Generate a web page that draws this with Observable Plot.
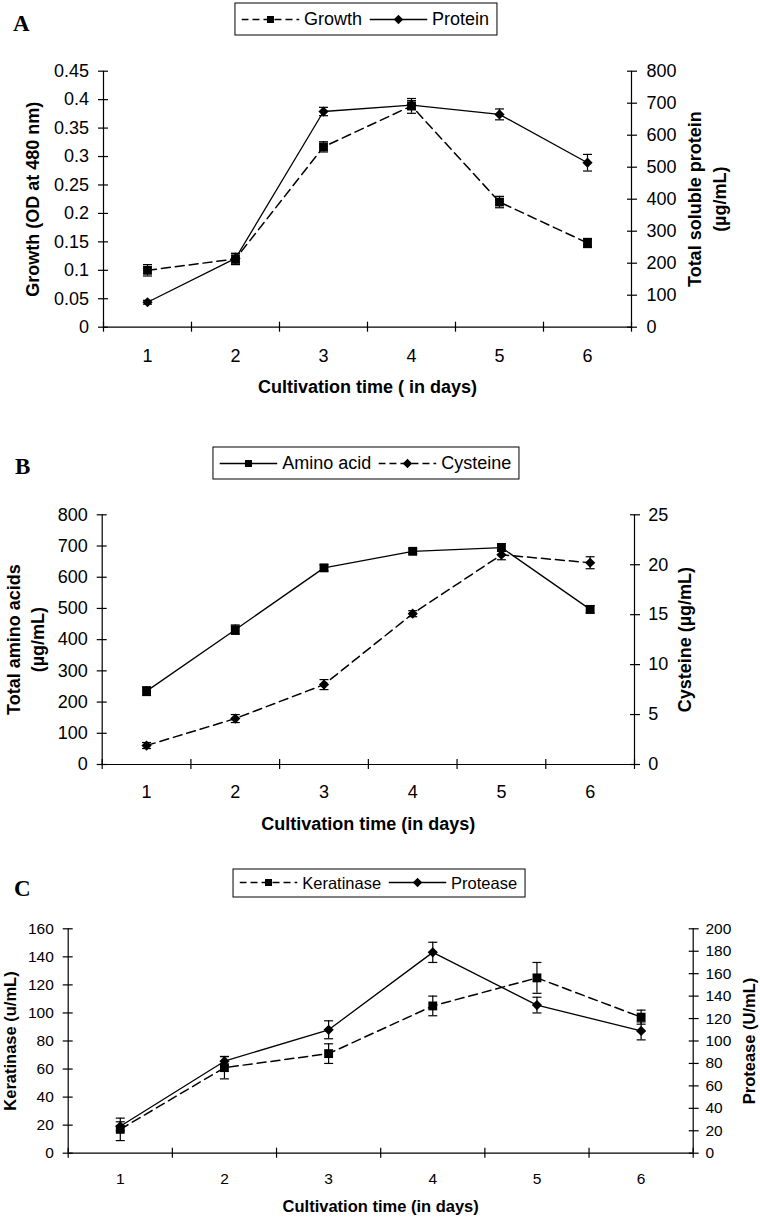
<!DOCTYPE html>
<html><head><meta charset="utf-8">
<script src="https://cdn.jsdelivr.net/npm/d3@7"></script>
<script src="https://cdn.jsdelivr.net/npm/@observablehq/plot@0.6"></script>
<style>
body{margin:0;background:#fff;}
#root{position:relative;width:760px;height:1221px;background:#fff;font-family:'Liberation Sans',Arial,Helvetica,sans-serif;color:#000;overflow:hidden;}
.panel{position:absolute;left:0;}
.letter{position:absolute;font-family:'Liberation Serif','Times New Roman',serif;font-weight:bold;font-size:23px;line-height:1;}
.legend{position:absolute;transform:translate(-50%,-50%);border:1px solid #000;display:flex;align-items:center;white-space:nowrap;background:#fff;box-sizing:border-box;}
.legend .item{display:flex;align-items:center;}
.legend svg{display:block;}
</style></head><body><div id="root"></div><script>
// ---------- data ----------
const days = [1, 2, 3, 4, 5, 6];

// Panel A
const growth = [0.100, 0.120, 0.317, 0.389, 0.220, 0.148];
const growthErr = [0.010, 0.010, 0.009, 0.013, 0.010, 0.008];
const protein = [78, 215, 674, 694, 665, 514];
const proteinErr = [6, 15, 13, 14, 17, 26];
const growthTicks = [0, 0.05, 0.1, 0.15, 0.2, 0.25, 0.3, 0.35, 0.4, 0.45];
const proteinTicks = [0, 100, 200, 300, 400, 500, 600, 700, 800];

// Panel B
const aminoAcid = [235, 432, 630, 683, 695, 497];
const aminoErr = [14, 15, 10, 8, 12, 12];
const cysteine = [1.9, 4.6, 8.0, 15.1, 21.0, 20.2];
const cysteineErr = [0.3, 0.4, 0.5, 0.3, 0.5, 0.6];
const aminoTicks = [0, 100, 200, 300, 400, 500, 600, 700, 800];
const cysteineTicks = [0, 5, 10, 15, 20, 25];

// Panel C
const keratinase = [17, 61, 71, 105, 125, 97];
const keratinaseErr = [8, 8, 7, 7, 11, 5];
const protease = [24, 82, 110, 179, 132, 109];
const proteaseErr = [4, 4, 8, 9, 7, 8];
const keratinaseTicks = [0, 20, 40, 60, 80, 100, 120, 140, 160];
const proteaseTicks = [0, 20, 40, 60, 80, 100, 120, 140, 160, 180, 200];

// ---------- helpers ----------
const FONT = "'Liberation Sans', Arial, Helvetica, sans-serif";
const cap = {draw(ctx, size) { const w = Math.sqrt(size / Math.PI); ctx.moveTo(-w, 0); ctx.lineTo(w, 0); }};

function rows(values, errs, k) {
  return days.map((d, i) => ({day: d, v: values[i] * k, lo: (values[i] - errs[i]) * k, hi: (values[i] + errs[i]) * k}));
}

function seriesMarks(s, k) {
  const data = rows(s.values, s.errs, k);
  const lineOpts = {x: "day", y: "v", stroke: "#000", strokeWidth: s.dashed ? 1.5 : 1.3};
  if (s.dashed) lineOpts.strokeDasharray = "9,5";
  return [
    Plot.ruleX(data, {x: "day", y1: "lo", y2: "hi", stroke: "#000", strokeWidth: 1.2}),
    Plot.dot(data, {x: "day", y: "lo", symbol: cap, r: 4.5, stroke: "#000", fill: "none", strokeWidth: 1.2}),
    Plot.dot(data, {x: "day", y: "hi", symbol: cap, r: 4.5, stroke: "#000", fill: "none", strokeWidth: 1.2}),
    Plot.line(data, lineOpts),
    Plot.dot(data, {x: "day", y: "v", symbol: s.symbol, r: s.symbol === "square" ? 5 : 4.6, fill: "#000", stroke: "none"})
  ];
}

function panel(c) {
  const k = c.leftMax / c.rightMax;
  const edges = [...days.map(d => d - 0.5), days[days.length - 1] + 0.5];
  const fmtR = d => String(Math.round(d / k * 1000) / 1000);
  const marks = [
    Plot.ruleY([0], {stroke: "#000", strokeWidth: 1.2}),
    Plot.ruleX([edges[0]], {stroke: "#000", strokeWidth: 1.2}),
    Plot.ruleX([edges[edges.length - 1]], {stroke: "#000", strokeWidth: 1.2}),
    Plot.axisY(c.leftTicks, {anchor: "left", tickSize: 10, dx: 5, tickPadding: c.padL - 5, tickFormat: c.leftFmt, label: null, strokeWidth: 1.2, fontSize: c.fontSize}),
    Plot.axisY(c.rightTicks.map(t => t * k), {anchor: "right", tickSize: 10, dx: -5, tickPadding: c.padR - 5, tickFormat: fmtR, label: null, strokeWidth: 1.2, fontSize: c.fontSize}),
    Plot.axisX(edges, {anchor: "bottom", tickSize: 10, dy: -5, tickFormat: () => "", label: null, strokeWidth: 1.2}),
    Plot.axisX(days, {anchor: "bottom", tickSize: 0, tickPadding: c.padX, tickFormat: d => String(d), label: null, fontSize: c.fontSize}),
    ...c.series.flatMap(s => seriesMarks(s, s.axis === "right" ? k : 1)),
    ...c.leftTitles.map(t => Plot.text([t.text], {text: d => d, frameAnchor: "left", textAnchor: "middle", rotate: -90, dx: t.dx, fontWeight: "bold", fontSize: c.titleSize, lineAnchor: "middle"})),
    ...c.rightTitles.map(t => Plot.text([t.text], {text: d => d, frameAnchor: "right", textAnchor: "middle", rotate: -90, dx: t.dx, fontWeight: "bold", fontSize: c.titleSize, lineAnchor: "middle"})),
    Plot.text([c.xLabel], {text: d => d, frameAnchor: "bottom", textAnchor: "middle", dy: c.xLabelDy, fontWeight: "bold", fontSize: c.titleSize, lineAnchor: "middle"})
  ];
  return Plot.plot({
    width: 760, height: c.height,
    marginTop: c.mt, marginBottom: c.mb, marginLeft: c.ml, marginRight: c.mr,
    x: {type: "linear", domain: [edges[0], edges[edges.length - 1]], label: null},
    y: {type: "linear", domain: [0, c.leftMax], label: null},
    style: {fontFamily: FONT, fontSize: c.fontSize + "px", color: "#000", background: "#fff", overflow: "visible"},
    marks
  });
}

function swatch(dashed, symbol) {
  const mk = symbol === "square"
    ? '<rect x="25.5" y="3.5" width="7" height="7" fill="#000"/>'
    : '<path d="M29,2.3L33.7,7L29,11.7L24.3,7Z" fill="#000"/>';
  return '<svg width="58" height="14" viewBox="0 0 58 14"><line x1="0" y1="7" x2="58" y2="7" stroke="#000" stroke-width="1.3"' +
    (dashed ? ' stroke-dasharray="7,4"' : '') + '/>' + mk + '</svg>';
}

const root = document.getElementById("root");

function place(c) {
  const wrap = document.createElement("div");
  wrap.className = "panel";
  wrap.style.top = c.top + "px";
  wrap.appendChild(panel(c));
  root.appendChild(wrap);

  const letter = document.createElement("div");
  letter.className = "letter";
  letter.textContent = c.letter;
  letter.style.left = c.letterPos[0] + "px";
  letter.style.top = c.letterPos[1] + "px";
  root.appendChild(letter);

  const lg = document.createElement("div");
  lg.className = "legend";
  lg.style.left = c.legend.cx + "px";
  lg.style.top = c.legend.cy + "px";
  lg.style.height = c.legend.h + "px";
  lg.style.padding = "0 7px 0 6px";
  lg.style.fontSize = c.legend.fs + "px";
  lg.innerHTML = c.series.map((s, i) =>
    '<span class="item" style="' + (i > 0 ? 'margin-left:7px' : '') + '">' + swatch(s.dashed, s.symbol) +
    '<span style="margin-left:5px">' + s.name + '</span></span>').join("");
  root.appendChild(lg);
}

place({
  letter: "A", letterPos: [13, 12], top: 0, height: 400,
  mt: 70.7, mb: 73.3, ml: 103, mr: 129,
  leftMax: 0.45, rightMax: 800, leftTicks: growthTicks, rightTicks: proteinTicks,
  leftFmt: d => String(+d.toFixed(2)),
  fontSize: 18, titleSize: 18, padL: 14.5, padR: 15, padX: 21.8,
  xLabel: "Cultivation time ( in days)", xLabelDy: 60.3,
  leftTitles: [{text: "Growth (OD at 480 nm)", dx: -70.5}],
  rightTitles: [{text: "Total soluble protein", dx: 64}, {text: "(µg/mL)", dx: 89}],
  legend: {cx: 365.5, cy: 19.2, h: 33, fs: 18},
  series: [
    {name: "Growth", values: growth, errs: growthErr, axis: "left", dashed: true, symbol: "square"},
    {name: "Protein", values: protein, errs: proteinErr, axis: "right", dashed: false, symbol: "diamond2"}
  ]
});

place({
  letter: "B", letterPos: [15, 455], top: 400, height: 440,
  mt: 114.3, mb: 76, ml: 101.7, mr: 126,
  leftMax: 800, rightMax: 25, leftTicks: aminoTicks, rightTicks: cysteineTicks,
  leftFmt: d => String(d),
  fontSize: 18, titleSize: 18, padL: 14.4, padR: 13.7, padX: 21.2,
  xLabel: "Cultivation time (in days)", xLabelDy: 60,
  leftTitles: [{text: "Total amino acids", dx: -88.2}, {text: "(µg/mL)", dx: -63.7}],
  rightTitles: [{text: "Cysteine (µg/mL)", dx: 51}],
  legend: {cx: 365.8, cy: 463.3, h: 33, fs: 18},
  series: [
    {name: "Amino acid", values: aminoAcid, errs: aminoErr, axis: "left", dashed: false, symbol: "square"},
    {name: "Cysteine", values: cysteine, errs: cysteineErr, axis: "right", dashed: true, symbol: "diamond2"}
  ]
});

place({
  letter: "C", letterPos: [14, 877], top: 840, height: 381,
  mt: 88.3, mb: 68.3, ml: 67.7, mr: 67.3,
  leftMax: 160, rightMax: 200, leftTicks: keratinaseTicks, rightTicks: proteaseTicks,
  leftFmt: d => String(d),
  fontSize: 15.5, titleSize: 16.5, padL: 14.4, padR: 12.3, padX: 19.4,
  xLabel: "Cultivation time (in days)", xLabelDy: 54,
  leftTitles: [{text: "Keratinase (u/mL)", dx: -57.7}],
  rightTitles: [{text: "Protease (U/mL)", dx: 57}],
  legend: {cx: 378.7, cy: 882.8, h: 29, fs: 16.5},
  series: [
    {name: "Keratinase", values: keratinase, errs: keratinaseErr, axis: "left", dashed: true, symbol: "square"},
    {name: "Protease", values: protease, errs: proteaseErr, axis: "right", dashed: false, symbol: "diamond2"}
  ]
});
</script></body></html>
